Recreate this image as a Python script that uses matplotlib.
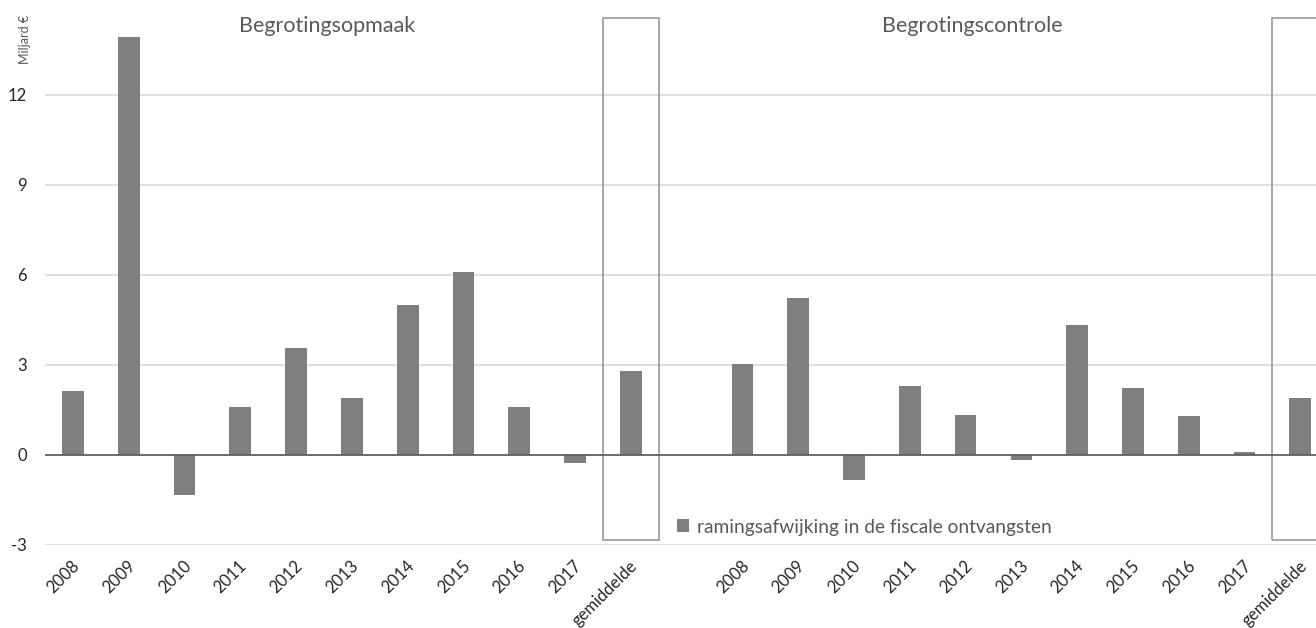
import matplotlib
matplotlib.use('Agg')
import matplotlib.pyplot as plt
from matplotlib.patches import Rectangle
from matplotlib.transforms import ScaledTranslation

plt.rcParams['font.family'] = ['Lato', 'DejaVu Sans']

# Ramingsafwijking fiscale ontvangsten (miljard euro)
years = ['2008', '2009', '2010', '2011', '2012', '2013', '2014', '2015', '2016', '2017', 'gemiddelde']
opmaak = [2.13, 13.93, -1.33, 1.58, 3.56, 1.89, 5.0, 6.1, 1.6, -0.27, 2.8]
controle = [3.02, 5.23, -0.83, 2.29, 1.33, -0.18, 4.33, 2.23, 1.29, 0.1, 1.89]
group_titles = ['Begrotingsopmaak', 'Begrotingscontrole']
series_name = 'ramingsafwijking in de fiscale ontvangsten'
y_ticks = [-3, 0, 3, 6, 9, 12]

bar_color = '#7f7f7f'
text_color = '#595959'

fig = plt.figure(figsize=(13.16, 6.28), dpi=100)
ax = fig.add_axes([45 / 1316, 1 - 544.7 / 628, 1 - 45 / 1316, 544.7 / 628])

# one empty slot between the two groups
x_opmaak = list(range(len(opmaak)))
x_controle = [i + len(opmaak) + 1 for i in range(len(controle))]

bars = ax.bar(x_opmaak, opmaak, width=0.39, color=bar_color, zorder=3,
              label=series_name)
ax.bar(x_controle, controle, width=0.39, color=bar_color, zorder=3)

# frame around the averages
for xpos in (x_opmaak[-1], x_controle[-1]):
    ax.add_patch(Rectangle((xpos - 0.5, -2.85), 1.0, 14.56 + 2.85,
                           fill=False, edgecolor='#a0a0a0', linewidth=1.3,
                           zorder=4, clip_on=False))

ax.set_xlim(-0.5, 22.28)
ax.set_ylim(-3, -3 + 544.7 / 30)
ax.set_yticks(y_ticks)
ax.set_yticklabels([str(t) for t in y_ticks], fontsize=12, color='#262626')
ax.yaxis.grid(True, color='#d9d9d9', linewidth=1.2, zorder=0)
ax.axhline(0, color='#595959', linewidth=1.2, zorder=5)
ax.tick_params(axis='both', length=0)
ax.tick_params(axis='y', pad=13)

ax.set_xticks(x_opmaak + x_controle)
ax.set_xticklabels(years + years, rotation=45, ha='right',
                   rotation_mode='anchor', fontsize=12, color='#262626')
offset = ScaledTranslation(4 / 100, -14 / 100, fig.dpi_scale_trans)
for lbl in ax.get_xticklabels():
    lbl.set_verticalalignment('center')
    lbl.set_transform(lbl.get_transform() + offset)

for s in ax.spines.values():
    s.set_visible(False)

fig.text(327.5 / 1316, 1 - 26 / 628, group_titles[0], ha='center', va='center',
         fontsize=15.5, color=text_color)
fig.text(972 / 1316, 1 - 26 / 628, group_titles[1], ha='center', va='center',
         fontsize=15.5, color=text_color)
fig.text(25 / 1316, 1 - 39.5 / 628, 'Miljard €', rotation=90, ha='center',
         va='center', fontsize=9, color=text_color)

ax.legend(handles=[bars], loc='center left', bbox_to_anchor=(677 / 1316, 1 - 527 / 628),
          bbox_transform=fig.transFigure, frameon=False, borderpad=0,
          borderaxespad=0, handlelength=0.65, handleheight=0.65,
          handletextpad=0.4, fontsize=13.8, labelcolor=text_color)

fig.savefig('out.png', dpi=100)
